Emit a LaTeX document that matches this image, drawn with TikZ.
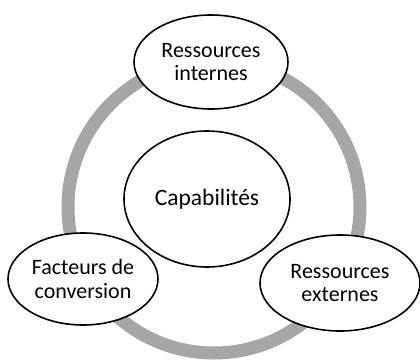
\documentclass[tikz,border=0pt]{standalone}
\usepackage{fontspec}
\setmainfont{Carlito}
\usetikzlibrary{shapes.geometric}
\definecolor{ringgray}{RGB}{166,166,166}

\tikzset{
  bulle/.style={ellipse, draw=black, line width=1.6pt, fill=white, inner sep=0pt,
    align=center, font=\fontsize{22}{23.5}\selectfont},
  anneau/.style={draw=ringgray, line width=13pt}
}
\newcommand{\bulle}[5]{%
 \node[bulle, minimum width=#3, minimum height=#4] ({#1}) at ({#2}) {#5};%
}

\begin{document}
\begin{tikzpicture}[x=1pt, y=-1pt]
   \useasboundingbox (0,0) rectangle (420,361);
   \coordinate (centre) at (214,207);
   \draw[anneau] (centre) circle (146pt);
   \bulle{interne}{211,62}{154pt}{94pt}{Ressources\\internes};
   \bulle{capa}{207,199}{166pt}{136pt}{\fontsize{23.5}{26}\selectfont Capabilités};
   \bulle{facteurs}{83,279}{150pt}{92pt}{Facteurs de\\conversion};
   \bulle{externe}{340,283}{160pt}{96pt}{Ressources\\externes};
\end{tikzpicture}
\end{document}
